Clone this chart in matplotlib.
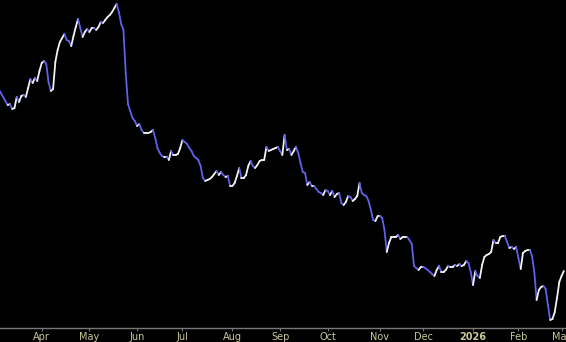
import numpy as np
import pandas as pd
import matplotlib
matplotlib.use("Agg")
import matplotlib.pyplot as plt
from matplotlib.collections import LineCollection

# Trading calendar (NYSE sessions), Mar 2025 - Mar 2026
start_date = "2025-03-05"
end_date = "2026-03-03"
holidays = ["2025-04-18", "2025-05-26", "2025-06-19", "2025-07-04", "2025-09-01",
            "2025-11-27", "2025-12-25", "2026-01-01", "2026-01-19", "2026-02-16"]

# Daily closing values (one per session)
closes = [
    44.1, 43.7, 43.3, 42.9, 42.5, 42.6, 42.1, 42.2, 43.3, 42.8,
    43.4, 43.5, 43.3, 44.2, 45.1, 44.7, 45.2, 44.9, 45.9, 46.7,
    46.9, 46.6, 44.8, 43.9, 44.1, 46.8, 48.0, 48.8, 49.2, 49.6,
    49.0, 48.9, 48.4, 49.4, 50.3, 51.1, 50.2, 49.3, 49.8, 50.1,
    49.8, 50.2, 50.2, 50.0, 50.3, 50.8, 50.7, 51.0, 51.3, 51.5,
    51.8, 52.2, 52.6, 51.8, 50.6, 50.0, 45.7, 42.6, 41.9, 41.2,
    40.9, 40.4, 40.6, 40.0, 39.7, 39.7, 39.7, 39.8, 40.0, 39.2,
    38.2, 37.7, 37.4, 37.3, 37.3, 37.0, 37.9, 37.5, 37.5, 37.6,
    38.2, 39.0, 38.8, 38.6, 38.2, 37.9, 37.4, 37.2, 37.0, 36.4,
    35.2, 34.9, 35.0, 35.1, 35.3, 35.6, 35.9, 35.5, 35.8, 35.5,
    35.3, 35.4, 34.4, 34.4, 34.7, 35.4, 36.2, 35.2, 35.2, 35.5,
    36.4, 36.9, 36.4, 36.2, 36.5, 36.9, 37.0, 37.0, 38.3, 37.9,
    38.0, 38.1, 38.2, 38.3, 37.9, 37.5, 39.5, 38.0, 38.1, 37.5,
    37.9, 38.3, 37.7, 36.7, 35.8, 35.7, 34.5, 34.8, 34.4, 34.4,
    34.1, 33.8, 33.7, 33.5, 34.0, 33.9, 33.5, 33.9, 33.3, 33.6,
    33.7, 32.7, 32.5, 32.8, 33.4, 33.3, 32.9, 33.1, 33.4, 34.7,
    33.7, 33.5, 33.4, 32.9, 32.0, 31.0, 30.9, 31.4, 31.4, 31.2,
    30.0, 27.8, 28.7, 29.3, 29.3, 29.3, 29.5, 29.1, 29.3, 29.3,
    29.3, 29.0, 28.6, 26.4, 26.2, 26.0, 26.3, 26.3, 26.2, 26.0,
    25.8, 25.6, 25.4, 26.0, 26.4, 25.8, 25.8, 26.0, 26.4, 26.3,
    26.3, 26.5, 26.4, 26.6, 26.4, 26.5, 26.9, 26.7, 25.8, 24.5,
    25.9, 25.4, 25.2, 26.5, 27.3, 27.5, 27.6, 27.8, 29.0, 28.7,
    28.7, 29.3, 29.4, 29.4, 28.8, 28.2, 28.3, 28.1, 28.3, 27.2,
    26.1, 27.7, 27.9, 28.0, 28.0, 27.4, 25.8, 23.0, 24.0, 24.3,
    24.4, 24.1, 22.5, 21.0, 21.1, 21.8, 23.2, 24.8, 25.4, 25.9,
]

month_labels = ["Apr", "May", "Jun", "Jul", "Aug", "Sep", "Oct", "Nov", "Dec", "2026", "Feb", "Mar"]

sessions = pd.bdate_range(start_date, end_date)
sessions = sessions[~sessions.isin(pd.to_datetime(holidays))]
n = min(len(sessions), len(closes))
sessions = sessions[:n]
vals = np.array(closes[:n], dtype=float)
x = np.arange(n)

# first session of each month (after the first partial month)
periods = sessions.to_period("M")
first_idx = [i for i in range(1, n) if periods[i] != periods[i - 1]]

fig = plt.figure(figsize=(5.66, 3.42), dpi=100, facecolor="black")
ax = fig.add_axes([0, 14 / 342, 1, 328 / 342])
ax.set_facecolor("black")

pts = np.column_stack([x, vals])
segs = np.stack([pts[:-1], pts[1:]], axis=1)
up = np.diff(vals) >= 0
colors = ["#f2f2f2" if u else "#6060e8" for u in up]
lc = LineCollection(segs, colors=colors, linewidths=1.3, capstyle="round", joinstyle="round")
ax.add_collection(lc)

ax.set_xlim(0.62, 249.96)
ax.set_ylim(20.2, 53.0)

for s in ["top", "left", "right"]:
    ax.spines[s].set_visible(False)
ax.spines["bottom"].set_color("#787878")
ax.spines["bottom"].set_linewidth(1.0)
ax.set_yticks([])

ax.set_xticks(first_idx)
ax.set_xticklabels(month_labels[:len(first_idx)])
ax.tick_params(axis="x", colors="#787878", length=2.5, width=0.8, pad=0.2,
               labelcolor="#c8c898", labelsize=7)
for lbl in ax.get_xticklabels():
    if lbl.get_text() == "2026":
        lbl.set_fontweight("bold")

fig.savefig("out.png", dpi=100, facecolor="black")
